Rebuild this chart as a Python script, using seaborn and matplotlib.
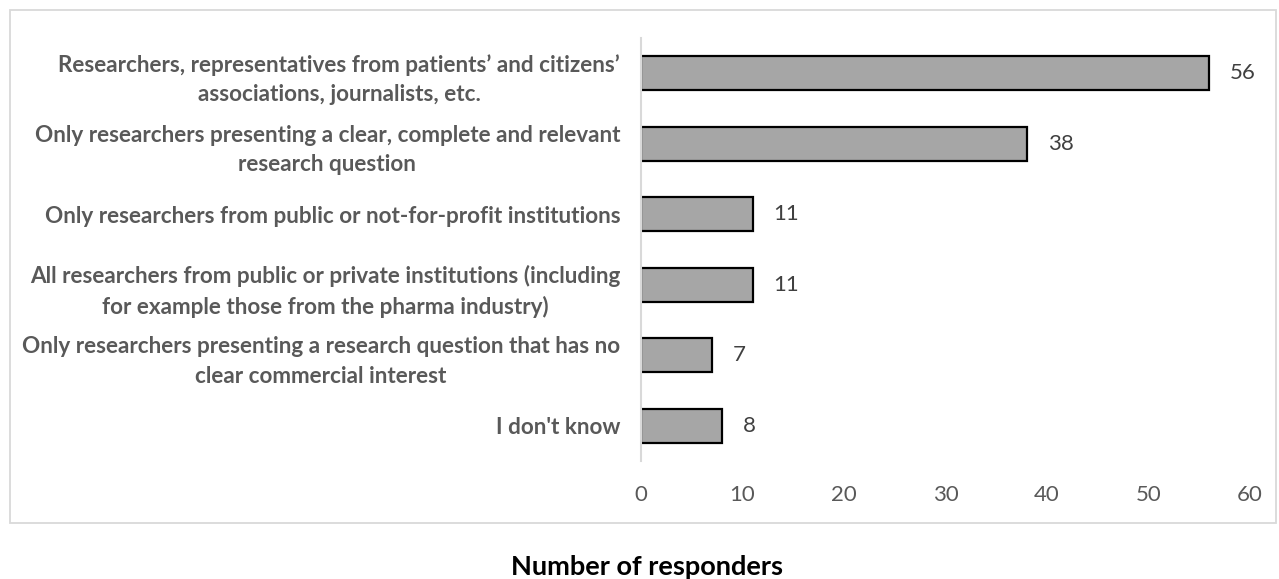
import matplotlib
matplotlib.use("Agg")
import matplotlib.pyplot as plt
import seaborn as sns
import pandas as pd
from matplotlib.patches import Rectangle

# Survey answers: who should be allowed to access the data
categories = [
    "Researchers, representatives from patients\u2019 and citizens\u2019\nassociations, journalists, etc.",
    "Only researchers presenting a clear, complete and relevant\nresearch question",
    "Only researchers from public or not-for-profit institutions",
    "All researchers from public or private institutions (including\nfor example those from the pharma industry)",
    "Only researchers presenting a research question that has no\nclear commercial interest",
    "I don't know",
]
responders = [56, 38, 11, 11, 7, 8]
x_ticks = [0, 10, 20, 30, 40, 50, 60]

sns.set_theme(style="white")
plt.rcParams["font.family"] = ["Lato", "DejaVu Sans"]

df = pd.DataFrame({"category": categories, "responders": responders})

fig = plt.figure(figsize=(12.79, 5.79), dpi=100)
ax = fig.add_axes([641 / 1279, 1 - 461 / 579, (1250 - 641) / 1279, (461 - 38) / 579])

sns.barplot(
    data=df, x="responders", y="category", ax=ax,
    color="#a6a6a6", saturation=1, width=0.48,
    edgecolor="black", linewidth=1.6,
)

ax.set_xlim(0, 60)
ax.set_ylim(len(categories) - 0.5, -0.5)
ax.set_xticks(x_ticks)
ax.set_xticklabels([str(t) for t in x_ticks], fontsize=16, color="#595959")
ax.tick_params(axis="x", length=0, pad=17)
ax.tick_params(axis="y", length=0, pad=15)
for lbl in ax.get_yticklabels():
    lbl.set_fontsize(16.2)
    lbl.set_fontweight("bold")
    lbl.set_color("#595959")
    lbl.set_multialignment("center")
    lbl.set_linespacing(1.5)

ax.set_xlabel("")
ax.set_ylabel("")
for side in ["top", "right", "bottom"]:
    ax.spines[side].set_visible(False)
ax.spines["left"].set_color("#d9d9d9")
ax.spines["left"].set_linewidth(1.5)

for container in ax.containers:
    ax.bar_label(container, labels=[str(v) for v in responders],
                 padding=15, fontsize=16, color="#404040")

# outer chart frame
fig.patches.append(Rectangle((10 / 1279, 1 - 523 / 579), (1276 - 10) / 1279, (523 - 10) / 579,
                             transform=fig.transFigure, fill=False,
                             edgecolor="#d9d9d9", linewidth=1.3))

fig.text(647 / 1279, 1 - 567 / 579, "Number of responders", ha="center", va="center",
         fontsize=19.5, fontweight="bold", color="black")

fig.savefig("out.png", dpi=100)
